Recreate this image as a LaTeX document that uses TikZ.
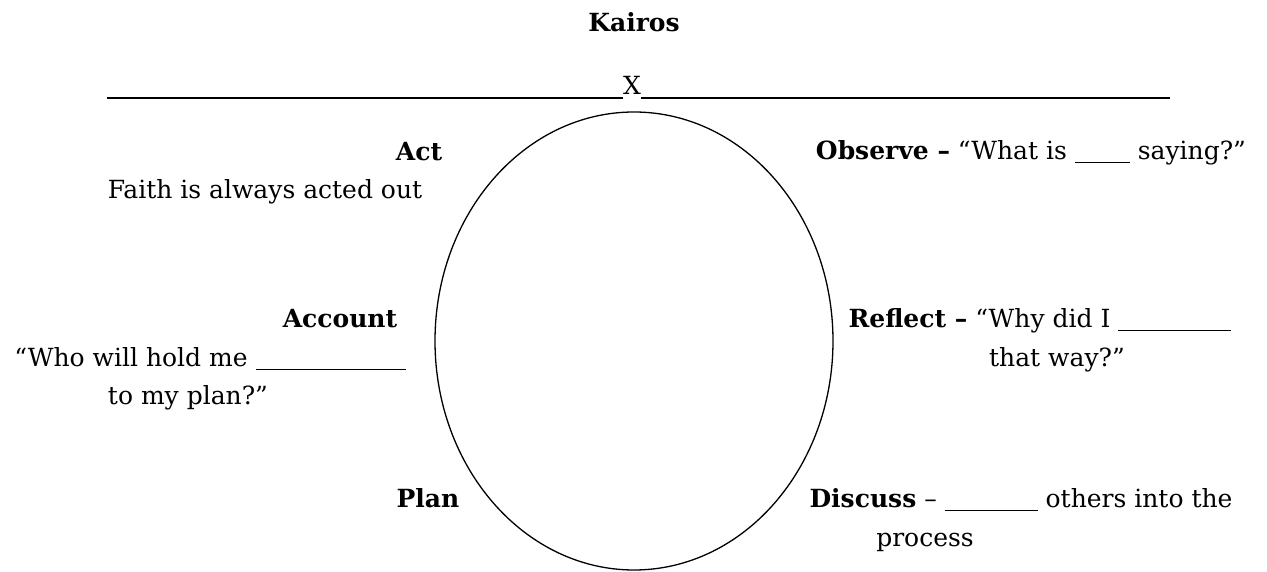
\documentclass[tikz,border=0pt]{standalone}
\usepackage{fontspec}
\setmainfont{DejaVu Serif}
\usetikzlibrary{shapes.geometric,positioning}
\newcommand{\blankline}[1]{\rule[-3pt]{#1}{1.4pt}}
\tikzset{
	txt/.style={anchor=base,inner sep=0pt,font=\fontsize{25}{30}\selectfont},
	hd/.style={txt,font=\fontsize{25}{30}\selectfont\bfseries}
}
\begin{document}
\begin{tikzpicture}[x=1pt,y=1pt]
		\useasboundingbox (0,0) rectangle (1267,572);
		\node[hd] (kairos) at (634,540) {Kairos};
		\node[txt] (xmark) at (632,477) {X};
		\coordinate (lineL) at (107,474);
		\coordinate (lineR) at (1170,474);
		\draw[line width=1.6pt] (lineL) -- (lineL -| xmark.west);
		\draw[line width=1.6pt] (lineR -| xmark.east) -- (lineR);
		\node[draw,ellipse,line width=1.3pt,inner sep=0pt,minimum width=398,minimum height=458] (cycle) at (634,231) {};
		% left side
		\node[hd] (act) at (419,411) {Act};
		\node[txt] (faith) at (265,373) {Faith is always acted out};
		\node[hd] (account) at (340,244) {Account};
		\node[txt] (who) at (210,205) {“Who will hold me \blankline{150pt}};
		\node[txt] (toplan) at (188,167) {to my plan?”};
		\node[hd] (plan) at (428,64) {Plan};
		% right side
		\node[txt] (observe) at (1031,412) {\textbf{Observe –} “What is \blankline{55pt} saying?”};
		\node[txt] (reflect) at (1040,244) {\textbf{Reflect –} “Why did I \blankline{113pt}};
		\node[txt] (thatway) at (1057,205) {that way?”};
		\node[txt] (discuss) at (1021,64) {\textbf{Discuss} – \blankline{93pt} others into the};
		\node[txt] (process) at (925,25) {process};
	\end{tikzpicture}
\end{document}
